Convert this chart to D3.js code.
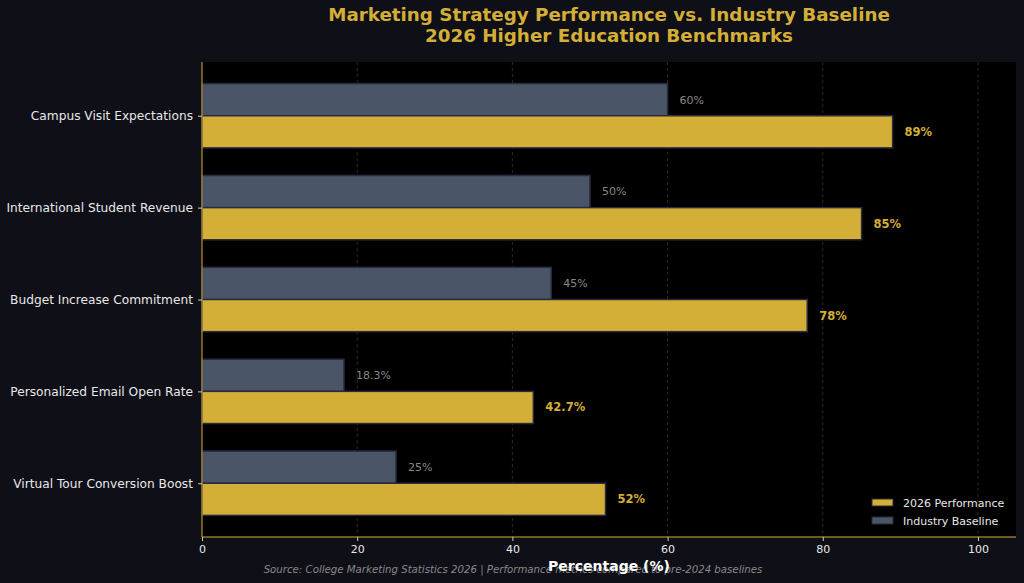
<!DOCTYPE html>
<html><head><meta charset="utf-8">
<script src="https://cdn.jsdelivr.net/npm/d3@7"></script>
<style>
html,body{margin:0;padding:0;background:#0f0f17;}
svg{display:block;font-family:"DejaVu Sans",sans-serif;}
</style></head>
<body>
<svg id="chart" width="1024" height="583"></svg>
<script>
const categories = ["Campus Visit Expectations","International Student Revenue","Budget Increase Commitment","Personalized Email Open Rate","Virtual Tour Conversion Boost"];
const performance = [89, 85, 78, 42.7, 52];
const baseline = [60, 50, 45, 18.3, 25];
const perfLabels = ["89%","85%","78%","42.7%","52%"];
const baseLabels = ["60%","50%","45%","18.3%","25%"];
const xTicks = [0,20,40,60,80,100];

const svg = d3.select("#chart");
const W = 1024, H = 583;
const L = 202, R = 1016, T = 62, B = 537;
svg.append("rect").attr("width",W).attr("height",H).attr("fill","#0f0f17");
svg.append("rect").attr("x",L).attr("y",T).attr("width",R-L).attr("height",B-T).attr("fill","#000000");

const x = d3.scaleLinear().domain([0,104.9]).range([L,R]);
const y = d3.scaleLinear().domain([-0.585,4.585]).range([T,B]);
const bh = 0.35;

// grid
svg.append("g").selectAll("line").data(xTicks.filter(d=>d>0)).join("line")
  .attr("x1",d=>x(d)).attr("x2",d=>x(d)).attr("y1",T).attr("y2",B)
  .attr("stroke","#d4af37").attr("stroke-opacity",0.3).attr("stroke-width",0.8).attr("stroke-dasharray","3,3");

const idx = d3.range(categories.length);
svg.append("g").selectAll("rect").data(idx).join("rect")
  .attr("x",x(0)).attr("y",i=>y(i-bh)).attr("width",i=>x(baseline[i])-x(0)).attr("height",i=>y(i)-y(i-bh))
  .attr("fill","#4a5568").attr("stroke","#2a2a40").attr("stroke-width",1.5);
svg.append("g").selectAll("rect").data(idx).join("rect")
  .attr("x",x(0)).attr("y",i=>y(i)).attr("width",i=>x(performance[i])-x(0)).attr("height",i=>y(i+bh)-y(i))
  .attr("fill","#d4af37").attr("stroke","#2a2a40").attr("stroke-width",1.5);

svg.append("g").selectAll("text").data(idx).join("text")
  .attr("x",i=>x(baseline[i])+12).attr("y",i=>y(i-bh/2)).attr("dy","0.35em")
  .attr("fill","#888888").attr("font-size",11).text(i=>baseLabels[i]);
svg.append("g").selectAll("text").data(idx).join("text")
  .attr("x",i=>x(performance[i])+12).attr("y",i=>y(i+bh/2)).attr("dy","0.35em")
  .attr("fill","#d4af37").attr("font-size",11.5).attr("font-weight","bold").text(i=>perfLabels[i]);

svg.append("line").attr("x1",L).attr("x2",L).attr("y1",T).attr("y2",B).attr("stroke","#d4af37").attr("stroke-width",1);
svg.append("line").attr("x1",L).attr("x2",R).attr("y1",B).attr("y2",B).attr("stroke","#d4af37").attr("stroke-width",1);

const xa = svg.append("g").attr("transform",`translate(0,${B})`)
  .call(d3.axisBottom(x).tickValues(xTicks).tickSize(4).tickPadding(4).tickFormat(d3.format("d")));
xa.select(".domain").remove();
xa.selectAll("line").attr("stroke","#cccccc");
xa.selectAll("text").attr("fill","#e8e8e8").attr("font-size",11).attr("font-family","DejaVu Sans");

const ya = svg.append("g").attr("transform",`translate(${L},0)`)
  .call(d3.axisLeft(y).tickValues(idx).tickSize(4).tickPadding(5).tickFormat(i=>categories[i]));
ya.select(".domain").remove();
ya.selectAll("line").attr("stroke","#cccccc");
ya.selectAll("text").attr("fill","#e8e8e8").attr("font-size",12.2).attr("font-family","DejaVu Sans");

const cx = (L+R)/2;
svg.append("text").attr("x",cx).attr("y",21).attr("text-anchor","middle").attr("fill","#d4af37")
  .attr("font-size",18.3).attr("font-weight","bold").text("Marketing Strategy Performance vs. Industry Baseline");
svg.append("text").attr("x",cx).attr("y",42).attr("text-anchor","middle").attr("fill","#d4af37")
  .attr("font-size",18.3).attr("font-weight","bold").text("2026 Higher Education Benchmarks");

svg.append("text").attr("x",513).attr("y",573).attr("text-anchor","middle").attr("fill","#888888")
  .attr("font-size",10.2).attr("font-style","italic").text("Source: College Marketing Statistics 2026 | Performance metrics compared to pre-2024 baselines");
svg.append("text").attr("x",cx).attr("y",571).attr("text-anchor","middle").attr("fill","#ffffff")
  .attr("font-size",14).attr("font-weight","bold").text("Percentage (%)");

const leg = [{name:"2026 Performance",c:"#d4af37"},{name:"Industry Baseline",c:"#4a5568"}];
const lg = svg.append("g");
leg.forEach((d,i)=>{
  lg.append("rect").attr("x",872).attr("y",499+i*18).attr("width",21).attr("height",7).attr("fill",d.c).attr("stroke","#2a2a40");
  lg.append("text").attr("x",903).attr("y",503+i*18).attr("dy","0.35em").attr("fill","#e8e8e8").attr("font-size",11).text(d.name);
});
</script>
</body></html>
